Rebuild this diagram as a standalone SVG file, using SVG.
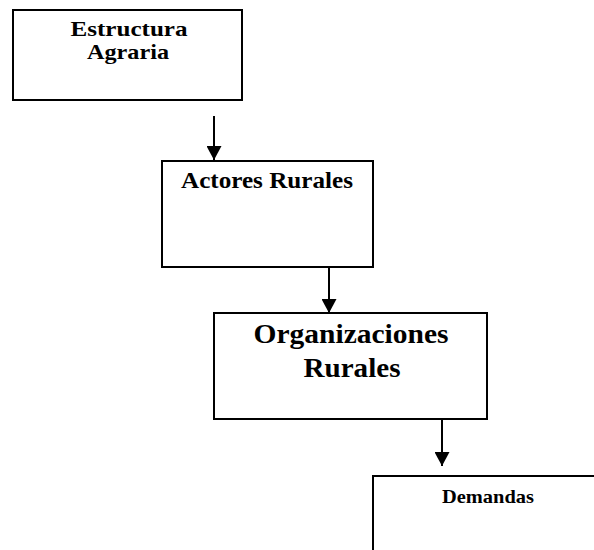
<svg xmlns="http://www.w3.org/2000/svg" width="594" height="550" viewBox="0 0 594 550">
  <defs>
    <marker id="arrow" markerUnits="userSpaceOnUse" markerWidth="16" markerHeight="15" refX="15" refY="8" orient="auto" viewBox="0 0 16 16">
      <path d="M0,0 L15,8 L0,16 Z" fill="#000"/>
    </marker>
    <style>
      .box { fill: #fff; stroke: #000; stroke-width: 2; }
      .t { font-family: "Liberation Serif", "Times New Roman", serif; font-weight: bold; fill: #000; text-anchor: middle; }
      .conn { stroke: #000; stroke-width: 2; fill: none; marker-end: url(#arrow); }
    </style>
  </defs>
  <rect width="594" height="550" fill="#fff"/>
  <g id="connectors">
    <line class="conn" x1="214" y1="116" x2="214" y2="160"/>
    <line class="conn" x1="329" y1="267" x2="329" y2="313"/>
    <line class="conn" x1="442" y1="419" x2="442" y2="466"/>
  </g>
  <g id="estructura-agraria">
    <rect class="box" x="13" y="10" width="229" height="90"/>
    <text class="t" x="129" y="36" font-size="21" textLength="117" lengthAdjust="spacingAndGlyphs">Estructura</text>
    <text class="t" x="128" y="59" font-size="21" textLength="82" lengthAdjust="spacingAndGlyphs">Agraria</text>
  </g>
  <g id="actores-rurales">
    <rect class="box" x="162" y="161" width="211" height="106"/>
    <text class="t" x="267" y="188" font-size="23" textLength="172" lengthAdjust="spacingAndGlyphs">Actores Rurales</text>
  </g>
  <g id="organizaciones-rurales">
    <rect class="box" x="214" y="313" width="273" height="106"/>
    <text class="t" x="351" y="343" font-size="27" textLength="195" lengthAdjust="spacingAndGlyphs">Organizaciones</text>
    <text class="t" x="352" y="377" font-size="27" textLength="97" lengthAdjust="spacingAndGlyphs">Rurales</text>
  </g>
  <g id="demandas">
    <rect class="box" x="373" y="476" width="240" height="100"/>
    <text class="t" x="488" y="503" font-size="19.5" textLength="92" lengthAdjust="spacingAndGlyphs">Demandas</text>
  </g>
</svg>
